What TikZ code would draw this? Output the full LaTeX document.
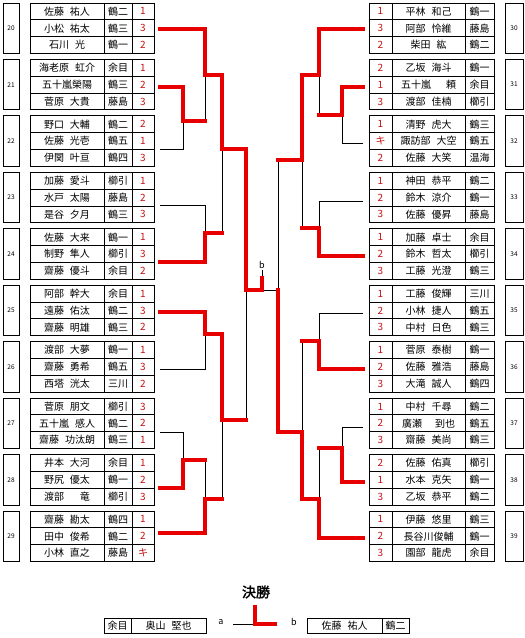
\documentclass[tikz,border=0pt]{standalone}
\usepackage{fontspec}
\setmainfont{Noto Sans CJK JP}[BoldFont={Noto Sans CJK JP},BoldFeatures={FakeBold=2}]
\usepackage{xcolor}
\usepackage{tikz}
\usetikzlibrary{positioning}
\definecolor{linered}{RGB}{232,0,0}
\definecolor{numred}{RGB}{200,16,16}
\tikzset{
  cell/.style = {rectangle, draw, line width=0.9pt, inner sep=0pt, outer sep=0pt,
    minimum height=16.83pt, font=\fontsize{10}{10}\selectfont},
  namecell/.style = {cell, minimum width=74pt},
  clubcell/.style = {cell, minimum width=28pt},
  rescell/.style = {cell, minimum width=22pt, text=numred},
  numbox/.style = {rectangle, draw, line width=0.9pt, inner sep=0pt, outer sep=0pt,
    minimum width=16pt, minimum height=50.5pt, font=\fontsize{6.5}{6.5}\selectfont},
  win/.style  = {line width=3.8pt, draw=linered, line cap=rect},
  lose/.style = {line width=0.9pt, draw=black},
  lbl/.style  = {inner sep=1pt, font=\fontsize{9}{9}\selectfont},
}
\newcommand{\namegap}{\hspace{0.6em}}
% one block on the left: number, then name / club / result
\newcommand{\grpL}[3]{%
  \node[numbox, anchor=north west] (g#1) at (3,#2) {#1};
  \foreach \nm/\cl/\rs [count=\i from 0] in {#3}{%
    \node[namecell, anchor=north west] (g#1n\i) at (30,{#2+\i*16.83}) {\nm};
    \node[clubcell, right=0pt of g#1n\i] (g#1c\i) {\cl};
    \node[rescell, right=0pt of g#1c\i] (g#1r\i) {\rs};
  }}
% one block on the right: result / name / club, then number
\newcommand{\grpR}[3]{%
  \node[numbox, minimum width=18pt, anchor=north west] (g#1) at (505,#2) {#1};
  \foreach \rs/\nm/\cl [count=\i from 0] in {#3}{%
    \node[rescell, minimum width=23pt, anchor=north west] (g#1r\i) at (369,{#2+\i*16.83}) {\rs};
    \node[namecell, minimum width=73pt, right=0pt of g#1r\i] (g#1n\i) {\nm};
    \node[clubcell, minimum width=29pt, right=0pt of g#1n\i] (g#1c\i) {\cl};
  }}
\begin{document}
\begin{tikzpicture}[x=1pt, y=-1pt]
  \useasboundingbox (0,0) rectangle (525,638);

  % Left blocks
  \grpL{20}{3.0}{佐藤\namegap 祐人/鶴二/1, 小松\namegap 祐太/鶴三/3, 石川\namegap 光/鶴一/2}
  \grpL{21}{59.4}{海老原\namegap 虹介/余目/1, 五十嵐榮陽/鶴三/2, 菅原\namegap 大貴/藤島/3}
  \grpL{22}{115.9}{野口\namegap 大輔/鶴二/2, 佐藤\namegap 光壱/鶴五/1, 伊関\namegap 叶亘/鶴四/3}
  \grpL{23}{172.3}{加藤\namegap 愛斗/櫛引/1, 水戸\namegap 太陽/藤島/2, 是谷\namegap 夕月/鶴三/3}
  \grpL{24}{228.8}{佐藤\namegap 大来/鶴一/1, 制野\namegap 隼人/櫛引/3, 齋藤\namegap 優斗/余目/2}
  \grpL{25}{285.2}{阿部\namegap 幹大/余目/1, 遠藤\namegap 佑汰/鶴二/3, 齋藤\namegap 明雄/鶴三/2}
  \grpL{26}{341.6}{渡部\namegap 大夢/鶴一/1, 齋藤\namegap 勇希/鶴五/3, 西塔\namegap 洸太/三川/2}
  \grpL{27}{398.1}{菅原\namegap 朋文/櫛引/3, 五十嵐\namegap 感人/鶴二/2, 齋藤\namegap 功汰朗/鶴三/1}
  \grpL{28}{454.5}{井本\namegap 大河/余目/1, 野尻\namegap 優太/鶴一/2, 渡部\hspace{1.6em}竜/櫛引/3}
  \grpL{29}{511.0}{齋藤\namegap 勘太/鶴四/1, 田中\namegap 俊希/鶴二/2, 小林\namegap 直之/藤島/キ}

  % Right blocks
  \grpR{30}{3.0}{1/平林\namegap 和己/鶴一, 3/阿部\namegap 怜維/藤島, 2/柴田\namegap 紘/鶴二}
  \grpR{31}{59.4}{2/乙坂\namegap 海斗/鶴一, 1/五十嵐\hspace{1.5em}頼/余目, 3/渡部\namegap 佳楠/櫛引}
  \grpR{32}{115.9}{1/清野\namegap 虎大/鶴三, キ/諏訪部\namegap 大空/鶴五, 2/佐藤\namegap 大笑/温海}
  \grpR{33}{172.3}{1/神田\namegap 恭平/鶴二, 2/鈴木\namegap 涼介/鶴一, 3/佐藤\namegap 優昇/藤島}
  \grpR{34}{228.8}{1/加藤\namegap 卓士/余目, 2/鈴木\namegap 哲太/櫛引, 3/工藤\namegap 光澄/鶴三}
  \grpR{35}{285.2}{1/工藤\namegap 俊輝/三川, 2/小林\namegap 捷人/鶴五, 3/中村\namegap 日色/鶴三}
  \grpR{36}{341.6}{1/菅原\namegap 泰樹/鶴一, 2/佐藤\namegap 雅浩/藤島, 3/大滝\namegap 誠人/鶴四}
  \grpR{37}{398.1}{1/中村\namegap 千尋/鶴二, 2/廣瀬\hspace{1.3em}到也/鶴五, 3/齋藤\namegap 美尚/鶴三}
  \grpR{38}{454.5}{2/佐藤\namegap 佑真/櫛引, 1/水本\namegap 克矢/鶴一, 3/乙坂\namegap 恭平/鶴二}
  \grpR{39}{511.0}{1/伊藤\namegap 悠里/鶴三, 2/長谷川俊輔/鶴一, 3/園部\namegap 龍虎/余目}

  % Bracket points, left
  \coordinate (l20) at (160,29);  \coordinate (l21) at (160,87);
  \coordinate (l22) at (160,149); \coordinate (l23) at (160,205);
  \coordinate (l24) at (160,262); \coordinate (l25) at (160,312);
  \coordinate (l26) at (160,369); \coordinate (l27) at (160,432);
  \coordinate (l28) at (160,488); \coordinate (l29) at (160,533);
  \coordinate (j21) at (183,121); \coordinate (j20) at (205,75);
  \coordinate (j23) at (205,233); \coordinate (jl1) at (222,149);
  \coordinate (j25) at (205,334); \coordinate (j27) at (183,460);
  \coordinate (j28) at (205,499); \coordinate (jl2) at (222,420);
  \coordinate (jl) at (246,290);  \coordinate (fin) at (262,290);
  \coordinate (btick) at (262,278);
  \node[lbl] (bl) at (262,265) {b};

  % Bracket points, right
  \coordinate (r30) at (363,29);  \coordinate (r31) at (363,87);
  \coordinate (r32) at (363,143); \coordinate (r33) at (363,201);
  \coordinate (r34) at (363,256); \coordinate (r35) at (363,313);
  \coordinate (r36) at (363,369); \coordinate (r37) at (363,427);
  \coordinate (r38) at (363,482); \coordinate (r39) at (363,538);
  \coordinate (j31) at (342,115); \coordinate (j30) at (319,75);
  \coordinate (j33) at (319,228); \coordinate (jr1) at (302,160);
  \coordinate (j35) at (319,341); \coordinate (j37) at (342,448);
  \coordinate (j38) at (319,499); \coordinate (jr2) at (302,432);
  \coordinate (jr) at (278,290);

  % Losing lines
  \draw[lose] (l22) -| (j21);
  \draw[lose] (j21 -| j20) -- (j20);
  \draw[lose] (l23) -| (j23);
  \draw[lose] (j23 -| jl1) -- (jl1);
  \draw[lose] (l26) -| (j25);
  \draw[lose] (l27) -| (j27);
  \draw[lose] (j27 -| j28) -- (j28);
  \draw[lose] (j28 -| jl2) -- (jl2);
  \draw[lose] (jl2 -| jl) -- (jl);
  \draw[lose] (jr) -- (fin);
  \draw[lose] (btick) -- (bl.south);
  \draw[lose] (r32) -| (j31);
  \draw[lose] (j31 -| j30) -- (j30);
  \draw[lose] (r33) -| (j33);
  \draw[lose] (j33 -| jr1) -- (jr1);
  \draw[lose] (jr1 -| jr) -- (jr);
  \draw[lose] (r35) -| (j35);
  \draw[lose] (j35 -| jr2) -- (jr2);
  \draw[lose] (r37) -| (j37);
  \draw[lose] (j37 -| j38) -- (j38);

  % Winning lines, left
  \draw[win] (l20) -| (j20);
  \draw[win] (l21) -| (j21);
  \draw[win] (j21) -- (j21 -| j20);
  \draw[win] (j20) -| (jl1);
  \draw[win] (l24) -| (j23);
  \draw[win] (j23) -- (j23 -| jl1);
  \draw[win] (jl1) -| (jl);
  \draw[win] (l25) -| (j25);
  \draw[win] (j25) -| (jl2);
  \draw[win] (l28) -| (j27);
  \draw[win] (j27) -- (j27 -| j28);
  \draw[win] (l29) -| (j28);
  \draw[win] (j28) -- (j28 -| jl2);
  \draw[win] (jl2) -- (jl2 -| jl);
  \draw[win] (jl) -- (fin) -- (btick);

  % Winning lines, right
  \draw[win] (r30) -| (j30);
  \draw[win] (r31) -| (j31);
  \draw[win] (j31) -- (j31 -| j30);
  \draw[win] (j30) -| (jr1);
  \draw[win] (r34) -| (j33);
  \draw[win] (j33) -- (j33 -| jr1);
  \draw[win] (jr1) -- (jr1 -| jr);
  \draw[win] (r36) -| (j35);
  \draw[win] (j35) -- (j35 -| jr2);
  \draw[win] (r38) -| (j37);
  \draw[win] (j37) -- (j37 -| j38);
  \draw[win] (r39) -| (j38);
  \draw[win] (j38) -| (jr2);
  \draw[win] (jr2) -| (jr);

  % Final
  \node[font=\fontsize{14}{14}\selectfont\bfseries] (ttl) at (256,592) {決勝};
  \node[clubcell, minimum width=27pt, minimum height=15pt, anchor=north west] (fac) at (104,618) {余目};
  \node[namecell, minimum width=75pt, minimum height=15pt, right=0pt of fac] (fan) {奥山\namegap 堅也};
  \node[lbl] (la) at (221,622) {a};
  \node[lbl] (lb) at (294,622) {b};
  \node[namecell, minimum width=75pt, minimum height=15pt, anchor=north west] (fbn) at (307,618) {佐藤\namegap 祐人};
  \node[clubcell, minimum width=27pt, minimum height=15pt, right=0pt of fbn] (fbc) {鶴二};
  \coordinate (fa) at (233,624);
  \coordinate (fk) at (255,624);
  \coordinate (ftop) at (255,607);
  \coordinate (fb) at (275,624);
  \draw[lose] (fa) -- (fk);
  \draw[win] (ftop) -- (fk) -- (fb);

\end{tikzpicture}
\end{document}
